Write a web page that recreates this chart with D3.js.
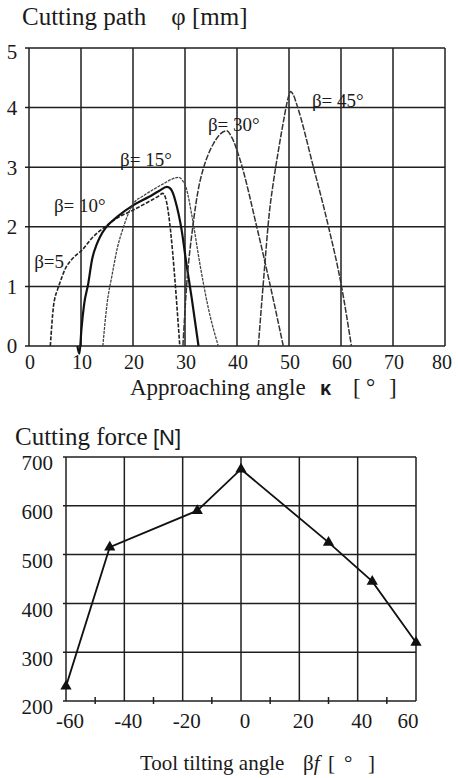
<!DOCTYPE html>
<html>
<head>
<meta charset="utf-8">
<script src="https://cdnjs.cloudflare.com/ajax/libs/d3/7.8.5/d3.min.js"></script>
<style>
  body { margin: 0; background: #fff; }
  svg { display: block; }
</style>
</head>
<body>
<div id="chart"></div>
<script>
// ---- top chart data: cutting path phi [mm] vs approaching angle kappa [deg]
var kappaTicks = [0, 10, 20, 30, 40, 50, 60, 70, 80];
var phiTicks = [0, 1, 2, 3, 4, 5];

var beta5 = [[4.1,0],[4.7,0.66],[5.5,0.95],[6.1,1.1],[7,1.3],[8,1.43],[9,1.52],[10.1,1.6],[12,1.8],[14.6,2.0],
  [17,2.15],[20,2.28],[23,2.42],[25,2.52],[25.7,2.56],[26.2,2.5],[29,0]];
var beta10 = [[9.3,0],[9.7,-0.13],[10.1,0.3],[10.6,0.7],[11.4,1.05],[12.1,1.44],[13,1.7],[13.65,1.83],[14.9,2.0],
  [17,2.17],[20,2.36],[23,2.5],[25,2.6],[26.5,2.67],[27.2,2.64],[27.7,2.56],[28.1,2.45],[29.4,1.92],[30.3,1.36],[31.3,0.8],[32.6,0]];
var beta15 = [[14.2,0],[15,0.7],[16,1.2],[17,1.65],[18,1.95],[19,2.2],[20,2.38],[22,2.52],[24,2.63],[26,2.73],
  [27.5,2.8],[28.8,2.83],[29.5,2.78],[30.3,2.63],[31.3,2.2],[32.9,1.36],[34.5,0.63],[36.4,0]];
var beta30 = [[29.6,0],[30.3,1.0],[31.5,2.0],[32.5,2.6],[33.5,2.97],[34.5,3.22],[35.5,3.4],[36.7,3.55],[38,3.61],
  [39,3.5],[40.6,3.12],[43.8,2.0],[46.3,1.05],[48.9,0]];
var beta45 = [[44.1,0],[45.1,1.1],[46.3,2.3],[47,2.75],[48,3.3],[49,3.8],[49.8,4.15],[50.3,4.27],[50.8,4.22],
  [51.5,4.05],[54.7,3.0],[57.6,2.0],[60.1,1.0],[62,0]];

var curveLabels = ["β=5", "β= 10°", "β= 15°", "β= 30°", "β= 45°"];
var labelAt = [[1.0,1.31],[4.8,2.25],[17.5,3.02],[34.4,3.6],[54.4,4.01]];

// ---- bottom chart data: cutting force [N] vs tool tilting angle beta_f [deg]
var tiltTicks = [-60, -40, -20, 0, 20, 40, 60];
var tiltMinor = [-50, -30, -10, 10, 30, 50];
var forceTicks = [200, 300, 400, 500, 600, 700];
var tiltAngles = [-60, -45, -15, 0, 30, 45, 60];
var forces = [230, 515, 590, 675, 525, 445, 320];

var W = 458, H = 778;
var serif = "'Liberation Serif', 'Times New Roman', Times, 'DejaVu Serif', serif";
var sans = "'Liberation Sans', Arial, sans-serif";
var ink = "#1f1f1f";

var svg = d3.select("#chart").append("svg").attr("width", W).attr("height", H)
  .attr("font-family", serif).attr("fill", "#1a1a1a");

// ================= top chart
var x1 = d3.scaleLinear().domain([0, 80]).range([29, 445]);
var y1 = d3.scaleLinear().domain([0, 5]).range([346, 48]);
var g1 = svg.append("g");

g1.append("text").attr("x", 22).attr("y", 25).attr("font-size", 25)
  .text("Cutting path\u2002\u2002φ [mm]");

// grid
g1.selectAll(".vg").data(kappaTicks).enter().append("line")
  .attr("x1", d => x1(d)).attr("x2", d => x1(d)).attr("y1", y1(5)).attr("y2", y1(0))
  .attr("stroke", ink).attr("stroke-width", 1.5);
g1.selectAll(".hg").data(phiTicks).enter().append("line")
  .attr("x1", x1(0) - 4).attr("x2", x1(80)).attr("y1", d => y1(d)).attr("y2", d => y1(d))
  .attr("stroke", ink).attr("stroke-width", 1.5);

g1.selectAll(".yl").data(phiTicks).enter().append("text")
  .attr("x", 12).attr("y", d => y1(d) + (d == 5 ? 4 : 0)).attr("dy", "0.35em")
  .attr("text-anchor", "middle").attr("font-size", 21).text(d => d);
g1.selectAll(".xl").data(kappaTicks).enter().append("text")
  .attr("x", d => x1(d) + (d == 80 ? -3 : 1)).attr("y", 369)
  .attr("text-anchor", "middle").attr("font-size", 20).text(d => d);

var t1 = g1.append("text").attr("y", 395).attr("font-size", 23);
t1.append("tspan").attr("x", 130).text("Approaching angle");
t1.append("tspan").attr("x", 320).attr("font-family", sans).attr("font-weight", "bold").attr("font-size", 20).text("κ");
t1.append("tspan").attr("x", 353).text("[");
t1.append("tspan").attr("x", 366).text("°");
t1.append("tspan").attr("x", 389).text("]");

var line1 = d3.line().x(d => x1(d[0])).y(d => y1(d[1])).curve(d3.curveMonotoneX);
var series = [beta5, beta10, beta15, beta30, beta45];
var styles = [
  {w: 1.6, dash: "4,1.6", c: "#222"},
  {w: 2.2, dash: null, c: "#111"},
  {w: 1.3, dash: "3,1", c: "#444"},
  {w: 1.5, dash: "6,1.5", c: "#333"},
  {w: 1.5, dash: "6,1.5", c: "#333"}
];
g1.selectAll(".curve").data(series).enter().append("path")
  .attr("d", line1).attr("fill", "none")
  .attr("stroke", (d, i) => styles[i].c)
  .attr("stroke-width", (d, i) => styles[i].w)
  .attr("stroke-dasharray", (d, i) => styles[i].dash);

g1.selectAll(".cl").data(curveLabels).enter().append("text")
  .attr("x", (d, i) => x1(labelAt[i][0])).attr("y", (d, i) => y1(labelAt[i][1]))
  .attr("font-size", 19).text(d => d);

// ================= bottom chart
var x2 = d3.scaleLinear().domain([-60, 60]).range([66, 416]);
var y2 = d3.scaleLinear().domain([200, 700]).range([701, 457]);
var g2 = svg.append("g");

var t2 = g2.append("text").attr("x", 15).attr("y", 445).attr("font-size", 25);
t2.append("tspan").text("Cutting force ");
t2.append("tspan").attr("x", 153).attr("font-family", sans).attr("font-size", 22).text("[N]");

g2.selectAll(".vg").data(tiltTicks).enter().append("line")
  .attr("x1", d => x2(d)).attr("x2", d => x2(d)).attr("y1", y2(700)).attr("y2", y2(200))
  .attr("stroke", ink).attr("stroke-width", 1.5);
g2.selectAll(".hg").data(forceTicks).enter().append("line")
  .attr("x1", x2(-60) - 3).attr("x2", x2(60)).attr("y1", d => y2(d)).attr("y2", d => y2(d))
  .attr("stroke", ink).attr("stroke-width", 1.5);
g2.selectAll(".mt").data(tiltMinor).enter().append("line")
  .attr("x1", d => x2(d)).attr("x2", d => x2(d)).attr("y1", y2(200) - 4).attr("y2", y2(200) + 3)
  .attr("stroke", ink).attr("stroke-width", 1.5);

g2.selectAll(".yl").data(forceTicks).enter().append("text")
  .attr("x", 53).attr("y", d => y2(d) + 6).attr("dy", "0.35em")
  .attr("text-anchor", "end").attr("font-size", 21).text(d => d);
g2.selectAll(".xl").data(tiltTicks).enter().append("text")
  .attr("x", d => x2(d) + (d == 60 ? -8 : 4)).attr("y", 728)
  .attr("text-anchor", "middle").attr("font-size", 21).text(d => d);

var t3 = g2.append("text").attr("y", 770).attr("font-size", 21);
t3.append("tspan").attr("x", 140).text("Tool tilting angle");
t3.append("tspan").attr("x", 303).text("β");
t3.append("tspan").attr("font-style", "italic").text("f");
t3.append("tspan").attr("x", 328).text("[");
t3.append("tspan").attr("x", 344).text("°");
t3.append("tspan").attr("x", 368).text("]");

var pts = tiltAngles.map((a, i) => [a, forces[i]]);
var line2 = d3.line().x(d => x2(d[0])).y(d => y2(d[1]));
g2.append("path").datum(pts).attr("d", line2).attr("fill", "none")
  .attr("stroke", "#111").attr("stroke-width", 1.8);
g2.selectAll(".pt").data(pts).enter().append("path")
  .attr("d", d3.symbol().type(d3.symbolTriangle).size(55))
  .attr("transform", d => "translate(" + x2(d[0]) + "," + y2(d[1]) + ")")
  .attr("fill", "#111");
</script>
</body>
</html>
